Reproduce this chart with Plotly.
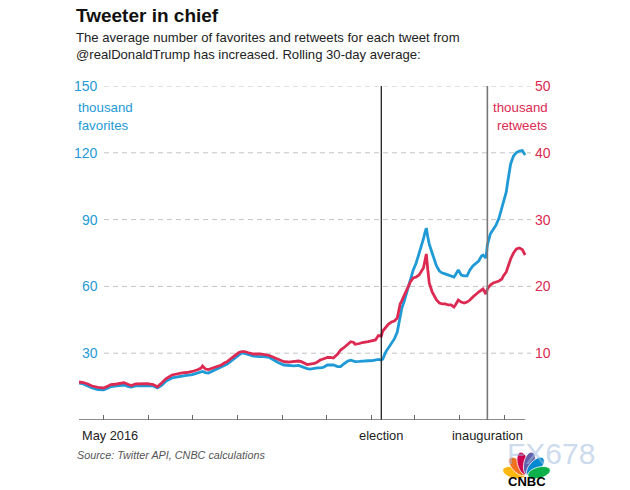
import math
import plotly.graph_objects as go

# ---------------- data (thousands, rolling 30-day average) ----------------
dates = [
    "2016-04-14", "2016-04-17", "2016-04-20", "2016-04-23", "2016-04-27",
    "2016-05-01", "2016-05-04", "2016-05-06", "2016-05-10", "2016-05-13",
    "2016-05-15", "2016-05-18", "2016-05-20", "2016-05-23", "2016-05-27",
    "2016-05-31", "2016-06-04", "2016-06-07", "2016-06-10", "2016-06-13",
    "2016-06-17", "2016-06-20", "2016-06-24", "2016-06-27", "2016-07-01",
    "2016-07-05", "2016-07-07", "2016-07-08", "2016-07-10", "2016-07-12",
    "2016-07-15", "2016-07-18", "2016-07-21", "2016-07-23", "2016-07-25",
    "2016-07-28", "2016-07-31", "2016-08-02", "2016-08-04", "2016-08-06",
    "2016-08-08", "2016-08-10", "2016-08-12", "2016-08-16", "2016-08-19",
    "2016-08-23", "2016-08-26", "2016-08-29", "2016-09-02", "2016-09-05",
    "2016-09-09", "2016-09-12", "2016-09-14", "2016-09-16", "2016-09-18",
    "2016-09-20", "2016-09-23", "2016-09-25", "2016-09-27", "2016-09-29",
    "2016-10-02", "2016-10-04", "2016-10-06", "2016-10-09", "2016-10-11",
    "2016-10-13", "2016-10-16", "2016-10-18", "2016-10-20", "2016-10-21",
    "2016-10-24", "2016-10-26", "2016-10-30", "2016-11-02", "2016-11-04",
    "2016-11-06",
    "2016-11-08", "2016-11-09", "2016-11-11", "2016-11-13", "2016-11-15",
    "2016-11-17", "2016-11-19", "2016-11-21", "2016-11-22", "2016-11-24",
    "2016-11-26", "2016-11-28", "2016-11-30", "2016-12-02", "2016-12-04",
    "2016-12-07", "2016-12-08", "2016-12-09", "2016-12-10", "2016-12-11",
    "2016-12-13", "2016-12-14", "2016-12-16", "2016-12-18", "2016-12-20",
    "2016-12-22", "2016-12-24", "2016-12-26", "2016-12-28", "2016-12-29",
    "2016-12-31", "2017-01-02", "2017-01-04", "2017-01-06", "2017-01-08",
    "2017-01-10", "2017-01-12", "2017-01-14", "2017-01-16", "2017-01-17",
    "2017-01-19", "2017-01-20", "2017-01-22", "2017-01-24", "2017-01-26",
    "2017-01-28", "2017-01-30", "2017-01-31", "2017-02-02", "2017-02-03",
    "2017-02-05", "2017-02-07", "2017-02-09", "2017-02-11", "2017-02-13",
    "2017-02-15",
]

favorites = [
    16.6, 16.2, 15.3, 14.4, 13.7, 13.5, 14.4, 15.0, 15.3, 15.5,
    15.7, 15.0, 14.8, 15.3, 15.5, 15.5, 15.3, 14.4, 15.7, 17.5,
    18.9, 19.3, 19.5, 20.0, 20.4, 21.1, 21.6, 21.8, 21.3, 21.1,
    22.0, 22.9, 23.8, 24.5, 25.1, 26.7, 28.3, 29.4, 30.1, 29.9,
    29.4, 29.0, 28.7, 28.5, 28.5, 28.1, 26.9, 25.8, 24.7, 24.5,
    24.3, 24.5, 24.0, 23.4, 23.1, 22.9, 23.4, 23.4, 23.4, 23.6,
    24.7, 24.7, 24.7, 24.0, 24.0, 25.1, 26.5, 26.9, 26.3, 26.2,
    26.3, 26.5, 26.6, 26.7, 26.9, 27.2,
    26.9, 27.4, 30.5, 32.3, 34.1, 36.4, 39.5, 45.8, 49.9, 53.9,
    58.4, 62.9, 67.4, 70.5, 74.6, 81.3, 84.0, 86.2, 82.2, 79.0,
    75.0, 72.8, 69.2, 66.9, 66.0, 65.6, 65.1, 64.7, 64.2, 65.1,
    67.4, 65.1, 64.7, 64.7, 67.4, 69.2, 70.1, 71.4, 73.7, 74.1,
    72.8, 78.6, 83.5, 85.8, 87.6, 90.7, 95.7, 97.9, 102.4, 106.9,
    115.0, 118.6, 120.1, 120.8, 121.0, 119.0,
]

retweets = [
    5.69, 5.61, 5.39, 5.09, 4.87, 4.79, 5.09, 5.31, 5.39, 5.54,
    5.58, 5.31, 5.16, 5.39, 5.46, 5.46, 5.31, 4.98, 5.58, 6.21,
    6.74, 6.89, 7.04, 7.11, 7.26, 7.56, 7.78, 8.08, 7.63, 7.56,
    7.78, 8.01, 8.23, 8.53, 8.73, 9.28, 9.73, 10.10, 10.25, 10.25,
    10.10, 9.96, 9.88, 9.88, 9.84, 9.66, 9.39, 9.06, 8.73, 8.68,
    8.73, 8.83, 8.73, 8.46, 8.31, 8.38, 8.46, 8.68, 8.98, 9.13,
    9.36, 9.36, 9.28, 9.88, 10.48, 10.78, 11.30, 11.72, 11.60, 11.33,
    11.45, 11.60, 11.72, 11.83, 11.98, 12.65,
    12.57, 13.32, 13.92, 14.37, 14.67, 14.82, 15.27, 17.37, 17.81, 18.71,
    19.76, 20.66, 21.26, 21.41, 21.71, 22.75, 23.80, 24.85, 22.46, 20.51,
    19.16, 18.71, 17.96, 17.51, 17.37, 17.37, 17.22, 17.22, 16.92, 17.22,
    17.96, 17.66, 17.51, 17.66, 17.96, 18.41, 18.86, 19.16, 19.46, 19.61,
    18.86, 19.61, 20.21, 20.51, 20.66, 20.81, 21.11, 21.56, 22.16, 22.90,
    24.10, 25.00, 25.60, 25.75, 25.52, 24.70,
]

assert len(dates) == len(favorites) == len(retweets)

fav_ticks = [30, 60, 90, 120, 150]
rt_ticks = [10, 20, 30, 40, 50]
month_ticks = ["2016-05-01", "2016-06-01", "2016-07-01", "2016-08-01", "2016-09-01",
               "2016-10-01", "2016-11-01", "2016-12-01", "2017-01-01", "2017-02-01"]
events = [("2016-11-08", "election", "#111111", 1.2),
          ("2017-01-20", "inauguration", "#777777", 1.6)]
x_range = ["2016-04-14", "2017-02-19 17:00"]
axis_span = ["2016-04-14", "2017-02-15"]

# ---------------- styling ----------------
BLUE = "#1f9ad6"
RED = "#dc2a52"
FONT = "Liberation Sans, Arial, sans-serif"

W, H = 630, 490
L, R, T, B = 79, 532, 86, 420   # plot-area edges in pixels


def px(x):
    return (x - L) / (R - L)


def py(y):
    return (B - y) / (B - T)


fig = go.Figure()
fig.add_trace(go.Scatter(x=dates, y=favorites, mode="lines", yaxis="y",
                         line=dict(color=BLUE, width=2.8), hoverinfo="skip"))
fig.add_trace(go.Scatter(x=dates, y=retweets, mode="lines", yaxis="y2",
                         line=dict(color=RED, width=2.8), hoverinfo="skip"))

shapes = []
# dashed gridlines
for v in fav_ticks:
    shapes.append(dict(type="line", xref="paper", yref="y", x0=px(104), x1=px(531),
                       y0=v, y1=v, line=dict(color="#c4c4c4", width=1, dash="5px,4px"),
                       layer="below"))
# event lines
for d, _, col, wdt in events:
    shapes.append(dict(type="line", xref="x", yref="y", x0=d, x1=d, y0=0, y1=150,
                       line=dict(color=col, width=wdt)))
# x axis baseline
shapes.append(dict(type="line", xref="x", yref="y", x0=axis_span[0], x1=axis_span[1],
                   y0=0, y1=0, line=dict(color="#666666", width=1.4)))

# CNBC peacock (decorative logo)
feathers = [(165, "#fcb711"), (133, "#f37021"), (105, "#cc004c"),
            (77, "#6460aa"), (47, "#0089d0"), (15, "#0db14b")]
bx, by = 526.5, 476.0
for ang, col in feathers:
    t = math.radians(ang)
    cx, cy = bx + 13 * math.cos(t), by - 13 * math.sin(t)
    pts = []
    for k in range(28):
        s = 2 * math.pi * k / 28
        ex, ey = 11.5 * math.cos(s), 5.6 * math.sin(s)
        X = cx + ex * math.cos(t) - ey * math.sin(t)
        Y = cy - (ex * math.sin(t) + ey * math.cos(t))
        pts.append((px(X), py(Y)))
    path = "M " + " L ".join(f"{a:.5f},{b:.5f}" for a, b in pts) + " Z"
    shapes.append(dict(type="path", xref="paper", yref="paper", path=path,
                       fillcolor=col, line=dict(color="white", width=0.8)))

ann = []


def text(x, y, s, size, color, family=FONT, xanchor="left", yanchor="middle", xref="paper", yref="paper"):
    ann.append(dict(x=x, y=y, xref=xref, yref=yref, text=s, showarrow=False,
                    xanchor=xanchor, yanchor=yanchor,
                    font=dict(size=size, color=color, family=family)))


# title & subtitle
text(px(74), py(15), "<b>Tweeter in chief</b>", 19, "#111111")
text(px(74), py(37.5), "The average number of favorites and retweets for each tweet from", 13.1, "#222222")
text(px(74), py(54.5), "@realDonaldTrump has increased. Rolling 30-day average:", 13.1, "#222222")

# left axis labels
for v in fav_ticks:
    text(px(99.5), v, str(v), 14, BLUE, xanchor="right", yref="y")
text(px(76), py(108), "thousand", 13.3, BLUE)
text(px(76), py(126), "favorites", 13.3, BLUE)
# right axis labels
for v in rt_ticks:
    text(px(533), v, str(v), 14, RED, xanchor="left", yref="y2")
text(px(550), py(108), "thousand", 13.3, RED, xanchor="right")
text(px(550), py(126), "retweets", 13.3, RED, xanchor="right")

# x labels
text(px(80), py(435), "May 2016", 12.8, "#222222")
for d, lab, _, _ in events:
    ann.append(dict(x=d, y=py(435), xref="x", yref="paper", text=lab, showarrow=False,
                    xanchor="center", yanchor="middle",
                    font=dict(size=12.9, color="#222222", family=FONT)))

# source
text(px(75), py(455), "<i>Source: Twitter API, CNBC calculations</i>", 10.8, "#555555")
# watermark and logo text
text(px(551), py(453), "FX678", 30, "rgba(160,188,222,0.55)", xanchor="center")
text(px(527), py(481), "<b>CNBC</b>", 13, "#000000", xanchor="center")

fig.update_layout(
    width=W, height=H,
    margin=dict(l=L, r=W - R, t=T, b=H - B, pad=0),
    paper_bgcolor="white", plot_bgcolor="white",
    showlegend=False,
    xaxis=dict(type="date", range=x_range, showgrid=False, zeroline=False, showline=False,
               ticks="inside", tickvals=month_ticks, ticklen=5, tickwidth=1,
               tickcolor="#666666", showticklabels=False, fixedrange=True),
    yaxis=dict(range=[0, 150], visible=False, fixedrange=True),
    yaxis2=dict(range=[0, 50], overlaying="y", visible=False, fixedrange=True),
    shapes=shapes,
    annotations=ann,
)

fig.write_html("out.html")
